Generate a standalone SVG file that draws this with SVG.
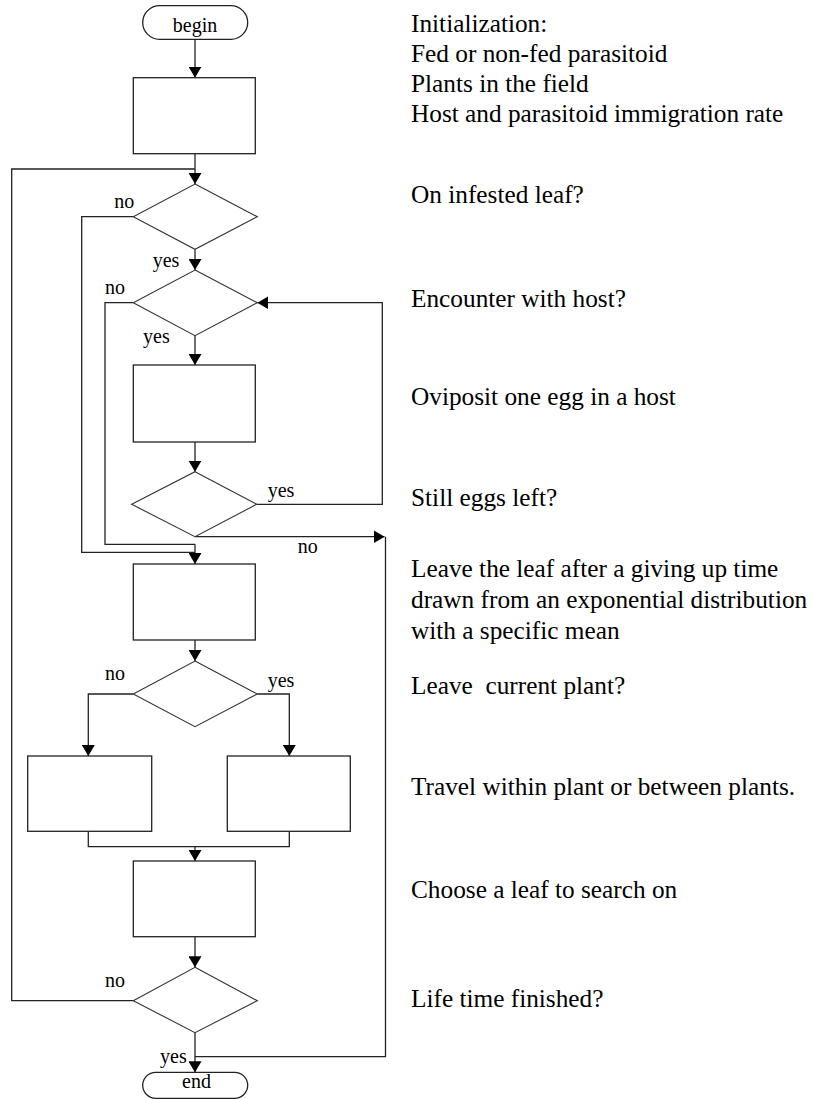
<svg xmlns="http://www.w3.org/2000/svg" width="813" height="1099" viewBox="0 0 813 1099">
<style>
.shape{fill:#fff;stroke:#222;stroke-width:1.3}
.dia{fill:#fff;stroke:#333;stroke-width:1.1}
.conn{fill:none;stroke:#222;stroke-width:1.3}
.lbl{font-family:"Liberation Serif","Times New Roman",serif;font-size:20px;fill:#000}
.note{font-family:"Liberation Serif","Times New Roman",serif;font-size:25.3px;fill:#000}
</style>
<defs>
<marker id="arr" markerUnits="userSpaceOnUse" viewBox="0 0 11 13" markerWidth="11" markerHeight="13" refX="11" refY="6.5" orient="auto">
<path d="M0,0 L11,6.5 L0,13 Z" fill="#000"/>
</marker>
</defs>
<rect width="813" height="1099" fill="#fff"/>

<g id="connectors">
<path class="conn" d="M195,39.3 V77.7" marker-end="url(#arr)"/>
<path class="conn" d="M195,153.7 V184" marker-end="url(#arr)"/>
<path class="conn" d="M195,249.3 V270" marker-end="url(#arr)"/>
<path class="conn" d="M195,335.7 V365" marker-end="url(#arr)"/>
<path class="conn" d="M195,442 V471.7" marker-end="url(#arr)"/>
<path class="conn" d="M256.7,504.3 H382.3 V302.7 H257.3" marker-end="url(#arr)"/>
<path class="conn" d="M195,536.7 H384.5" marker-end="url(#arr)"/>
<path class="conn" d="M385.5,536.7 V1056.7 H195"/>
<path class="conn" d="M133.3,302.7 H105 V544.3 H195"/>
<path class="conn" d="M133.3,216.7 H81.7 V552.3 H195"/>
<path class="conn" d="M195,544.3 V564" marker-end="url(#arr)"/>
<path class="conn" d="M195,640 V661" marker-end="url(#arr)"/>
<path class="conn" d="M133.3,694 H88.3 V756" marker-end="url(#arr)"/>
<path class="conn" d="M257.3,694 H289.3 V756" marker-end="url(#arr)"/>
<path class="conn" d="M88.3,831.3 V846.7 H289.3 V831.3"/>
<path class="conn" d="M195,846.7 V861" marker-end="url(#arr)"/>
<path class="conn" d="M195,936.7 V967.3" marker-end="url(#arr)"/>
<path class="conn" d="M133.3,1000.7 H11.7 V169 H195"/>
<path class="conn" d="M195,1032.7 V1072.3" marker-end="url(#arr)"/>
</g>

<g id="begin">
<rect class="shape" x="142.7" y="5.7" width="105" height="33.6" rx="16.8" ry="16.8"/>
<text class="lbl" x="195" y="31.7" text-anchor="middle">begin</text>
</g>
<g id="init-box"><rect class="shape" x="133.3" y="77.7" width="122" height="76"/></g>
<g id="on-leaf"><polygon class="dia" points="195,184 257.3,216.7 195,249.3 133.3,216.7"/></g>
<g id="encounter"><polygon class="dia" points="195,270 257.3,302.7 195,335.7 133.3,302.7"/></g>
<g id="oviposit-box"><rect class="shape" x="133.3" y="365" width="122" height="77"/></g>
<g id="eggs-left"><polygon class="dia" points="195,471.7 256.7,504.3 195,536.7 131.7,504.3"/></g>
<g id="leave-leaf-box"><rect class="shape" x="133.3" y="564" width="122" height="76"/></g>
<g id="leave-plant"><polygon class="dia" points="195,661 257.3,694 195,726.7 133.3,694"/></g>
<g id="travel-within-box"><rect class="shape" x="27.7" y="756" width="124" height="75.3"/></g>
<g id="travel-between-box"><rect class="shape" x="227.3" y="756" width="123" height="75.3"/></g>
<g id="choose-leaf-box"><rect class="shape" x="133.3" y="861" width="122" height="75.7"/></g>
<g id="life-finished"><polygon class="dia" points="195,967.3 257.3,1000.7 195,1032.7 133.3,1000.7"/></g>
<g id="end">
<rect class="shape" x="142.7" y="1072.3" width="105" height="26" rx="13" ry="13"/>
<text class="lbl" x="196.5" y="1088.3" text-anchor="middle">end</text>
</g>

<g id="branch-labels">
<text class="lbl" x="114.3" y="208.3">no</text>
<text class="lbl" x="152.7" y="266.7">yes</text>
<text class="lbl" x="105" y="294.3">no</text>
<text class="lbl" x="143" y="343.3">yes</text>
<text class="lbl" x="267.7" y="496.7">yes</text>
<text class="lbl" x="297.7" y="553.3">no</text>
<text class="lbl" x="105" y="680">no</text>
<text class="lbl" x="267.7" y="686.7">yes</text>
<text class="lbl" x="105" y="987.3">no</text>
<text class="lbl" x="160" y="1063.3">yes</text>
</g>

<g id="notes">
<text class="note" x="411" y="31.7">Initialization:</text>
<text class="note" x="411" y="62.3">Fed or non-fed parasitoid</text>
<text class="note" x="411" y="92.3">Plants in the field</text>
<text class="note" x="411" y="122.3">Host and parasitoid immigration rate</text>
<text class="note" x="411" y="203.3">On infested leaf?</text>
<text class="note" x="411" y="307">Encounter with host?</text>
<text class="note" x="411" y="405">Oviposit one egg in a host</text>
<text class="note" x="411" y="506">Still eggs left?</text>
<text class="note" x="411" y="577.3">Leave the leaf after a giving up time</text>
<text class="note" x="411" y="608.3">drawn from an exponential distribution</text>
<text class="note" x="411" y="639.3">with a specific mean</text>
<text class="note" x="411" y="694">Leave&#160; current plant?</text>
<text class="note" x="411" y="795">Travel within plant or between plants.</text>
<text class="note" x="411" y="898">Choose a leaf to search on</text>
<text class="note" x="411" y="1006.7">Life time finished?</text>
</g>
</svg>
